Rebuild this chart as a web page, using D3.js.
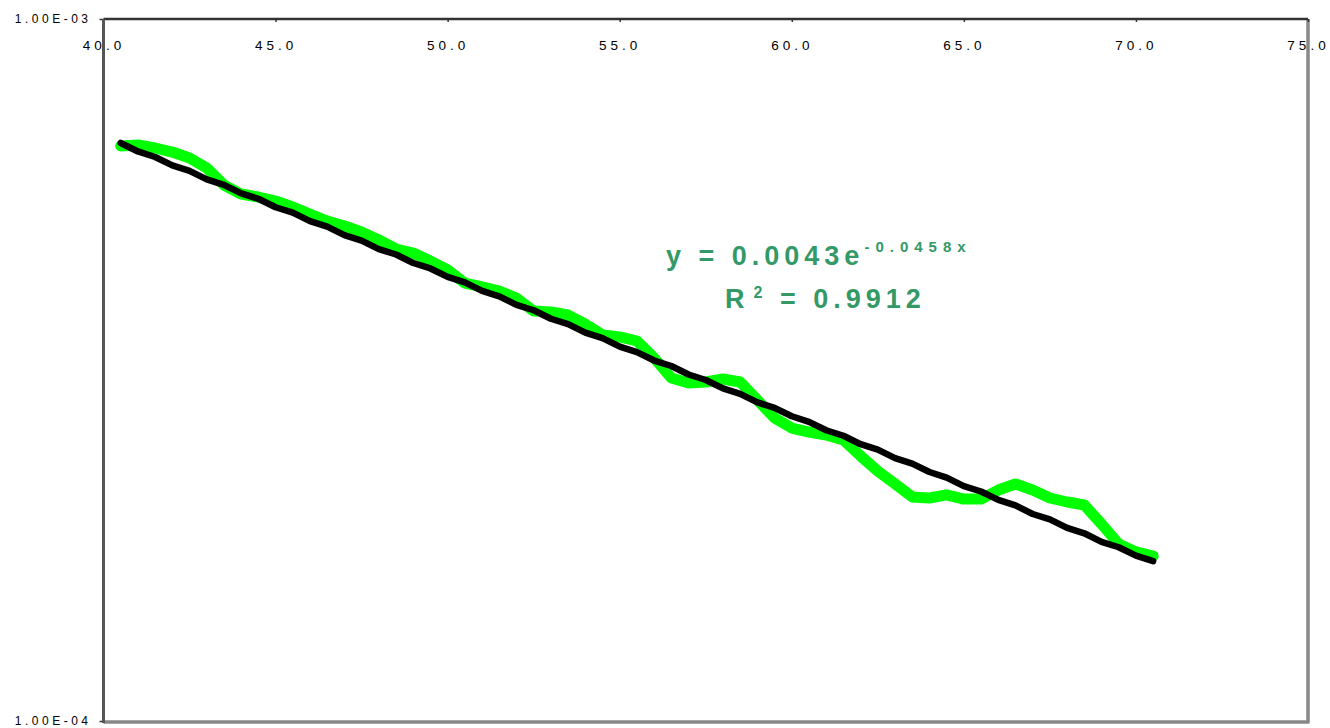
<!DOCTYPE html>
<html>
<head>
<meta charset="utf-8">
<script src="https://cdn.jsdelivr.net/npm/d3@7"></script>
<style>
  html, body { margin: 0; padding: 0; background: #ffffff; }
  svg { display: block; }
  text { font-family: "Liberation Sans", Arial, sans-serif; }
</style>
</head>
<body>
<svg id="chart" width="1330" height="728"></svg>
<script>
// ---- data ----
const xValues = [40.5, 41.0, 41.5, 42.0, 42.5, 43.0, 43.5, 44.0, 44.5, 45.0,
  45.5, 46.0, 46.5, 47.0, 47.5, 48.0, 48.5, 49.0, 49.5, 50.0,
  50.5, 51.0, 51.5, 52.0, 52.5, 53.0, 53.5, 54.0, 54.5, 55.0,
  55.5, 56.0, 56.5, 57.0, 57.5, 58.0, 58.5, 59.0, 59.5, 60.0,
  60.5, 61.0, 61.5, 62.0, 62.5, 63.0, 63.5, 64.0, 64.5, 65.0,
  65.5, 66.0, 66.5, 67.0, 67.5, 68.0, 68.5, 69.0, 69.5, 70.0, 70.5];

const greenSeries = [6.593e-4, 6.614e-4, 6.550e-4, 6.464e-4, 6.338e-4, 6.134e-4, 5.801e-4, 5.632e-4, 5.577e-4, 5.505e-4,
  5.397e-4, 5.275e-4, 5.155e-4, 5.071e-4, 4.972e-4, 4.844e-4, 4.703e-4, 4.641e-4, 4.521e-4, 4.390e-4,
  4.206e-4, 4.152e-4, 4.097e-4, 4.004e-4, 3.837e-4, 3.825e-4, 3.787e-4, 3.677e-4, 3.547e-4, 3.524e-4,
  3.478e-4, 3.289e-4, 3.080e-4, 3.030e-4, 3.040e-4, 3.070e-4, 3.040e-4, 2.866e-4, 2.701e-4, 2.614e-4,
  2.580e-4, 2.555e-4, 2.513e-4, 2.385e-4, 2.270e-4, 2.176e-4, 2.085e-4, 2.078e-4, 2.099e-4, 2.071e-4,
  2.071e-4, 2.133e-4, 2.176e-4, 2.133e-4, 2.078e-4, 2.051e-4, 2.031e-4, 1.908e-4, 1.787e-4, 1.741e-4, 1.718e-4];

const blackSeries = [6.658e-4, 6.476e-4, 6.360e-4, 6.186e-4, 6.076e-4, 5.910e-4, 5.805e-4, 5.645e-4, 5.545e-4, 5.393e-4,
  5.298e-4, 5.152e-4, 5.061e-4, 4.922e-4, 4.835e-4, 4.702e-4, 4.619e-4, 4.492e-4, 4.412e-4, 4.291e-4,
  4.215e-4, 4.099e-4, 4.027e-4, 3.916e-4, 3.847e-4, 3.741e-4, 3.675e-4, 3.574e-4, 3.510e-4, 3.414e-4,
  3.354e-4, 3.262e-4, 3.204e-4, 3.116e-4, 3.060e-4, 2.977e-4, 2.924e-4, 2.844e-4, 2.793e-4, 2.717e-4,
  2.668e-4, 2.595e-4, 2.549e-4, 2.479e-4, 2.435e-4, 2.368e-4, 2.326e-4, 2.263e-4, 2.222e-4, 2.161e-4,
  2.123e-4, 2.065e-4, 2.028e-4, 1.972e-4, 1.937e-4, 1.884e-4, 1.851e-4, 1.800e-4, 1.768e-4, 1.720e-4, 1.689e-4];

const xTicks = [40, 45, 50, 55, 60, 65, 70, 75];
const yTicks = [1e-4, 1e-3];
const yTickLabels = ["1.00E-04", "1.00E-03"];
const equationMain = "y = 0.0043e";
const equationExp = "-0.0458x";
const rSquaredLabel = "R";
const rSquaredSup = "2";
const rSquaredValue = " = 0.9912";

// ---- layout ----
const svg = d3.select("#chart");
const pLeft = 103.5, pRight = 1308, pTop = 19, pBottom = 721;

const x = d3.scaleLinear().domain([40, 75]).range([pLeft, pRight]);
const y = d3.scaleLog().domain([1e-4, 1e-3]).range([pBottom, pTop]);

// frame (right / bottom, grey)
svg.append("line").attr("x1", pRight).attr("x2", pRight).attr("y1", pTop).attr("y2", pBottom + 1)
  .attr("stroke", "#888").attr("stroke-width", 3.5);
svg.append("line").attr("x1", pLeft).attr("x2", pRight + 1.5).attr("y1", pBottom + 1).attr("y2", pBottom + 1)
  .attr("stroke", "#888").attr("stroke-width", 3.5);

// x axis (top)
const xAxis = d3.axisTop(x).tickValues(xTicks).tickFormat(d3.format(".1f")).tickSize(-3).tickSizeOuter(0);
const gx = svg.append("g").attr("transform", `translate(0,${pTop})`).call(xAxis);
gx.select(".domain").remove();
gx.selectAll(".tick line").attr("stroke", "#333").attr("stroke-width", 1.5);
gx.selectAll(".tick text")
  .attr("y", 31).attr("dy", 0)
  .attr("fill", "#000")
  .style("font-size", "13.5px")
  .style("letter-spacing", "4px");

// y axis (left, log)
const yAxis = d3.axisLeft(y).tickValues(yTicks)
  .tickFormat((d, i) => yTickLabels[i]).tickSize(4).tickPadding(8).tickSizeOuter(0);
const gy = svg.append("g").attr("transform", `translate(${pLeft},0)`).call(yAxis);
gy.select(".domain").remove();
gy.selectAll(".tick line").attr("stroke", "#333").attr("stroke-width", 1.5);
gy.selectAll(".tick text")
  .attr("dy", "0.3em")
  .attr("fill", "#000")
  .style("font-size", "12px")
  .style("letter-spacing", "3.5px");

// top and left frame lines
svg.append("line").attr("x1", pLeft).attr("x2", pRight).attr("y1", pTop).attr("y2", pTop)
  .attr("stroke", "#333").attr("stroke-width", 2.5);
svg.append("line").attr("x1", pLeft).attr("x2", pLeft).attr("y1", pTop).attr("y2", pBottom + 2)
  .attr("stroke", "#555").attr("stroke-width", 3);

// lines
const line = d3.line().x(d => x(d[0])).y(d => y(d[1]));
const greenData = xValues.map((v, i) => [v, greenSeries[i]]);
const blackData = xValues.map((v, i) => [v, blackSeries[i]]);

svg.append("path").datum(greenData).attr("d", line)
  .attr("fill", "none").attr("stroke", "#00ff00").attr("stroke-width", 11)
  .attr("stroke-linejoin", "round").attr("stroke-linecap", "round");
svg.append("path").datum(blackData).attr("d", line)
  .attr("fill", "none").attr("stroke", "#000000").attr("stroke-width", 6.5)
  .attr("stroke-linejoin", "round").attr("stroke-linecap", "round");

// trendline equation
const eqColor = "#339966";
const t1 = svg.append("text").attr("x", 666).attr("y", 265)
  .attr("fill", eqColor).style("font-weight", "bold").style("font-size", "27px")
  .style("letter-spacing", "5px");
t1.append("tspan").text(equationMain);
t1.append("tspan").attr("dy", -13).style("font-size", "15px").style("letter-spacing", "6px").text(equationExp);

const t2 = svg.append("text").attr("x", 725).attr("y", 308)
  .attr("fill", eqColor).style("font-weight", "bold").style("font-size", "27px")
  .style("letter-spacing", "5px");
t2.append("tspan").text(rSquaredLabel);
t2.append("tspan").attr("dx", 4).attr("dy", -10).style("font-size", "16px").text(rSquaredSup);
t2.append("tspan").attr("dy", 10).text(rSquaredValue);
</script>
</body>
</html>
